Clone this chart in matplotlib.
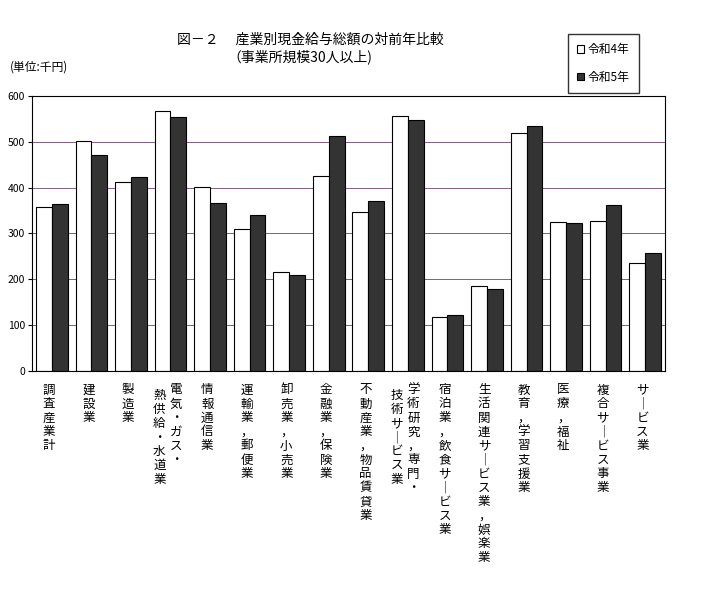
import numpy as np
import matplotlib
matplotlib.use("Agg")
import matplotlib.pyplot as plt

plt.rcParams["font.family"] = "Noto Sans CJK JP"

# category labels, one list entry per vertical column (right to left)
labels = [
    ["調査産業計"], ["建設業"], ["製造業"], ["電気・ガス・", "熱供給・水道業"],
    ["情報通信業"], ["運輸業，郵便業"], ["卸売業，小売業"], ["金融業，保険業"],
    ["不動産業，物品賃貸業"], ["学術研究，専門・", "技術サービス業"],
    ["宿泊業，飲食サービス業"], ["生活関連サービス業，娯楽業"], ["教育，学習支援業"],
    ["医療，福祉"], ["複合サービス事業"], ["サービス業"],
]
r4 = [358, 502, 413, 568, 402, 310, 216, 426, 347, 557, 118, 186, 520, 325, 327, 236]
r5 = [365, 472, 424, 555, 367, 341, 210, 513, 371, 548, 122, 179, 535, 323, 362, 258]
yticks = [0, 100, 200, 300, 400, 500, 600]

fig = plt.figure(figsize=(7.2, 5.94), dpi=100)
ax = fig.add_axes([32/720, 1-371/594, 633/720, 275/594])

x = np.arange(len(r4)) + 0.5
w = 0.4
for v in yticks[1:-1]:
    ax.axhline(v, color="#806080", linewidth=0.7, zorder=0)
ax.bar(x - w/2, r4, w, color="white", edgecolor="black", linewidth=0.8, label="令和4年", zorder=2)
ax.bar(x + w/2, r5, w, color="#333333", edgecolor="black", linewidth=0.8, label="令和5年", zorder=2)

ax.set_xlim(0, len(r4))
ax.set_ylim(0, 600)
ax.set_yticks(yticks)
ax.set_yticklabels([str(v) for v in yticks], fontsize=7.5)
ax.tick_params(axis="y", length=3, pad=2)
ax.set_xticks([])
for s in ax.spines.values():
    s.set_linewidth(0.8)

# vertical labels
for i, cols in enumerate(labels):
    n = len(cols)
    for j, col in enumerate(cols):
        txt = "\n".join(col.replace("ー", "｜"))
        off = (n - 1) / 2 * 12 - j * 12 - 2
        ax.annotate(txt, xy=(x[i], 0), xycoords=("data", "axes fraction"),
                    xytext=(off, -9 - j * 4), textcoords="offset points",
                    ha="center", va="top", fontsize=9, linespacing=1.1)

fig.text(310/720, 1-40/594, "図－２　 産業別現金給与総額の対前年比較", ha="center", va="center", fontsize=10)
fig.text(300/720, 1-57/594, "（事業所規模30人以上)", ha="center", va="center", fontsize=10)
fig.text(10/720, 1-67/594, "(単位:千円)", ha="left", va="center", fontsize=8.5)

fig.legend(loc="upper left", bbox_to_anchor=(562/720, 1-28/594), fontsize=8.5,
           frameon=True, fancybox=False, edgecolor="black", handlelength=0.6,
           handleheight=0.6, borderpad=0.8, labelspacing=1.2, handletextpad=0.3)

fig.savefig("out.png", dpi=100)
